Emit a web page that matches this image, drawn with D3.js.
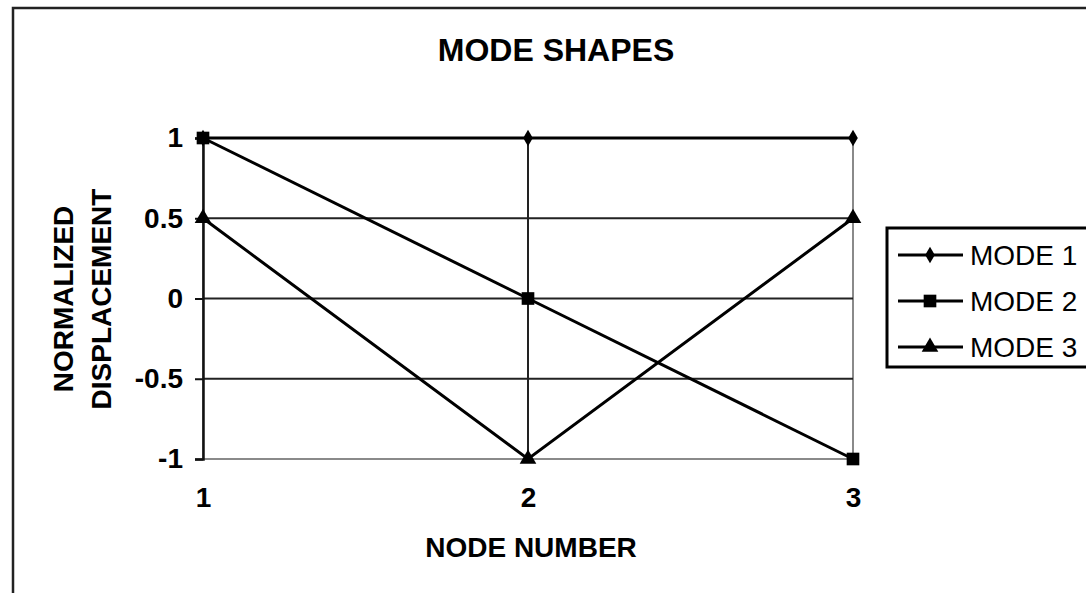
<!DOCTYPE html>
<html lang="en">
<head>
    <meta charset="utf-8">
    <title>Mode Shapes</title>
    <script src="https://cdn.jsdelivr.net/npm/d3@7"></script>
</head>
<style>
    body {
        margin: 0;
        padding: 0;
        background-color: #ffffff;
        font-family: "Liberation Sans", Arial, sans-serif;
    }
    .line {
        fill: none;
        stroke: #000;
        stroke-width: 3;
    }
    .tick-label {
        font-size: 28px;
        font-weight: bold;
    }
    .chart-title {
        font-size: 32px;
        font-weight: bold;
    }
    .axis-title {
        font-size: 28px;
        font-weight: bold;
    }
    .legend {
        font-size: 28px;
    }
</style>
<body>
    <svg width="1086" height="593" id="chart"></svg>

    <script>
        // data
        var nodes = [1, 2, 3];
        var modeNames = ["MODE 1", "MODE 2", "MODE 3"];
        var mode1 = [1, 1, 1];
        var mode2 = [1, 0, -1];
        var mode3 = [0.5, -1, 0.5];
        var yTicks = [-1, -0.5, 0, 0.5, 1];

        var series = [
            {name: modeNames[0], values: mode1, symbol: d3.symbolDiamond, size: 80},
            {name: modeNames[1], values: mode2, symbol: d3.symbolSquare, size: 160},
            {name: modeNames[2], values: mode3, symbol: d3.symbolTriangle, size: 120}
        ];

        var svg = d3.select("#chart");

        // outer chart frame
        svg.append("rect")
            .attr("x", 13).attr("y", 8)
            .attr("width", 1100).attr("height", 600)
            .attr("fill", "#fff")
            .attr("stroke", "#222")
            .attr("stroke-width", 2.5);

        var x = d3.scaleLinear().domain([1, 3]).range([203, 853]);
        var y = d3.scaleLinear().domain([-1, 1]).range([459, 138]);

        // plot area border (gray)
        svg.append("rect")
            .attr("x", x(1)).attr("y", y(1))
            .attr("width", x(3) - x(1)).attr("height", y(-1) - y(1))
            .attr("fill", "none")
            .attr("stroke", "#8a8a8a")
            .attr("stroke-width", 2);

        // horizontal gridlines
        svg.append("g").selectAll("line")
            .data(yTicks.filter(function(d) { return d > -1; }))
            .enter().append("line")
            .attr("x1", x(1)).attr("x2", x(3))
            .attr("y1", function(d) { return y(d); })
            .attr("y2", function(d) { return y(d); })
            .attr("stroke", "#222")
            .attr("stroke-width", 2);

        // vertical gridline
        svg.append("line")
            .attr("x1", x(2)).attr("x2", x(2))
            .attr("y1", y(1)).attr("y2", y(-1))
            .attr("stroke", "#222")
            .attr("stroke-width", 2);

        // y axis
        var yAxis = svg.append("g")
            .attr("transform", "translate(" + x(1) + ",0)")
            .call(d3.axisLeft(y).tickValues(yTicks).tickSize(8).tickFormat(function(d) { return String(d); }));
        yAxis.select(".domain").attr("stroke", "#111").attr("stroke-width", 2.5);
        yAxis.selectAll(".tick line").attr("stroke", "#111").attr("stroke-width", 2);
        yAxis.selectAll(".tick text")
            .attr("class", "tick-label")
            .attr("x", -20)
            .attr("fill", "#000")
            .attr("font-family", null)
            .attr("font-size", null);

        // x axis labels
        var xAxis = svg.append("g")
            .attr("transform", "translate(0," + y(-1) + ")")
            .call(d3.axisBottom(x).tickValues(nodes).tickSize(0).tickFormat(function(d) { return String(d); }));
        xAxis.select(".domain").remove();
        xAxis.selectAll(".tick text")
            .attr("class", "tick-label")
            .attr("y", 28)
            .attr("dy", "0.71em")
            .attr("fill", "#000")
            .attr("font-family", null)
            .attr("font-size", null);

        // lines and markers
        series.forEach(function(s) {
            var line = d3.line()
                .x(function(d, i) { return x(nodes[i]); })
                .y(function(d) { return y(d); });

            svg.append("path")
                .datum(s.values)
                .attr("class", "line")
                .attr("d", line);

            svg.append("g").selectAll("path")
                .data(s.values)
                .enter().append("path")
                .attr("transform", function(d, i) { return "translate(" + x(nodes[i]) + "," + y(d) + ")"; })
                .attr("d", d3.symbol().type(s.symbol).size(s.size))
                .attr("fill", "#000");
        });

        // titles
        svg.append("text")
            .attr("class", "chart-title")
            .attr("x", 556).attr("y", 61)
            .attr("text-anchor", "middle")
            .text("MODE SHAPES");

        svg.append("text")
            .attr("class", "axis-title")
            .attr("x", 531).attr("y", 557)
            .attr("text-anchor", "middle")
            .text("NODE NUMBER");

        var yTitle = svg.append("text")
            .attr("class", "axis-title")
            .attr("text-anchor", "middle")
            .attr("transform", "translate(73,299) rotate(-90)");
        yTitle.append("tspan").attr("x", 0).attr("y", 0).text("NORMALIZED");
        yTitle.append("tspan").attr("x", 0).attr("y", 38).text("DISPLACEMENT");

        // legend
        var legendBox = svg.append("g").attr("transform", "translate(887,228)");
        legendBox.append("rect")
            .attr("width", 220).attr("height", 139)
            .attr("fill", "#fff")
            .attr("stroke", "#000")
            .attr("stroke-width", 3);

        var legend = legendBox.selectAll("g.item")
            .data(series)
            .enter().append("g")
            .attr("class", "item")
            .attr("transform", function(d, i) { return "translate(0," + (27 + i * 46) + ")"; });

        legend.append("line")
            .attr("x1", 11).attr("x2", 76)
            .attr("stroke", "#000")
            .attr("stroke-width", 3);

        legend.append("path")
            .attr("transform", "translate(43,0)")
            .attr("d", function(d) { return d3.symbol().type(d.symbol).size(d.size)(); })
            .attr("fill", "#000");

        legend.append("text")
            .attr("class", "legend")
            .attr("x", 83)
            .attr("y", 0)
            .attr("dy", "0.36em")
            .text(function(d) { return d.name; });
    </script>
</body>
</html>
